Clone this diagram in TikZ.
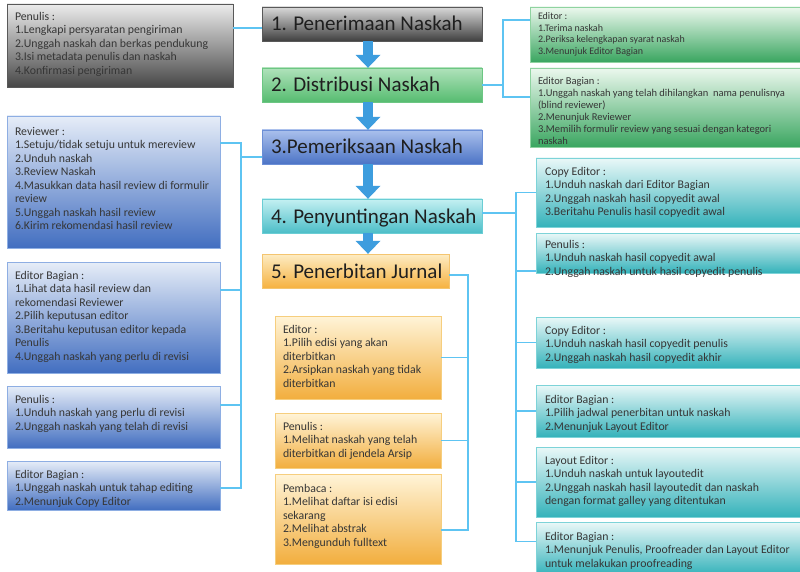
\documentclass[tikz,border=0pt]{standalone}
\usepackage{fontspec}
\setmainfont{Carlito}
\usetikzlibrary{arrows.meta,positioning,calc}

\definecolor{garis}{HTML}{5EC4F2}
\definecolor{panah}{HTML}{3D9DDE}
\definecolor{teks}{HTML}{363636}

\begin{document}
\begin{tikzpicture}[x=1pt,y=-1pt,
  conn/.style={garis,line width=1.6pt},
  blokpanah/.style={panah,line width=10pt,-{Triangle[width=25pt,length=13pt,line width=0pt]}},
  judul/.style={minimum height=34pt,inner sep=0pt},
  jdl/.style={anchor=base west,inner sep=0pt,text=black!88,font=\fontsize{21}{24}\selectfont},
  isi/.style={anchor=north west,align=left,inner sep=0pt,text=teks,font=\fontsize{11.8}{13.5}\selectfont},
  kotak/.style={inner sep=0pt},
  abuJ/.style={draw=gray!70!black,top color=gray!30,bottom color=black!75},
  abuK/.style={draw=gray!70!black,top color=gray!15,bottom color=black!72},
  hijauJ/.style={draw={rgb,255:red,108;green,198;blue,131},top color={rgb,255:red,176;green,226;blue,187},bottom color={rgb,255:red,86;green,188;blue,112}},
  hijauK/.style={draw={rgb,255:red,143;green,211;blue,160},top color={rgb,255:red,236;green,248;blue,238},bottom color={rgb,255:red,58;green,166;blue,96}},
  biruJ/.style={draw={rgb,255:red,108;green,143;blue,214},top color={rgb,255:red,170;green,192;blue,236},bottom color={rgb,255:red,76;green,116;blue,198}},
  biruK/.style={draw={rgb,255:red,142;green,174;blue,227},top color={rgb,255:red,230;green,237;blue,248},bottom color={rgb,255:red,66;green,110;blue,192}},
  tosJ/.style={draw={rgb,255:red,106;green,205;blue,212},top color={rgb,255:red,196;green,240;blue,242},bottom color={rgb,255:red,76;green,190;blue,200}},
  tosK/.style={draw={rgb,255:red,125;green,211;blue,216},top color={rgb,255:red,234;green,248;blue,248},bottom color={rgb,255:red,52;green,178;blue,186}},
  oranyeJ/.style={draw={rgb,255:red,244;green,197;blue,112},top color={rgb,255:red,253;green,236;blue,196},bottom color={rgb,255:red,246;green,178;blue,64}},
  oranyeK/.style={draw={rgb,255:red,246;green,206;blue,126},top color={rgb,255:red,255;green,244;blue,216},bottom color={rgb,255:red,242;green,174;blue,62}}]
  \fill[white] (0,0) rectangle (800,572);
  \useasboundingbox (0,0) rectangle (800,572);

  % tahapan utama
  \node[judul,abuJ,minimum width=220pt] (t1) at (372,24) {};
  \node[judul,hijauJ,minimum width=220pt] (t2) at (372,85) {};
  \node[judul,biruJ,minimum width=220pt] (t3) at (372,147) {};
  \node[judul,tosJ,minimum width=220pt] (t4) at (372,216) {};
  \node[judul,oranyeJ,minimum width=187pt] (t5) at (355.5,271) {};
  \node[jdl] (t1t) at ([xshift=9pt,yshift=-7pt]t1.west) {1. Penerimaan Naskah};
  \node[jdl] (t2t) at ([xshift=9pt,yshift=-7pt]t2.west) {2. Distribusi Naskah};
  \node[jdl] (t3t) at ([xshift=9pt,yshift=-7pt]t3.west) {3.Pemeriksaan\ Naskah};
  \node[jdl] (t4t) at ([xshift=9pt,yshift=-7pt]t4.west) {4. Penyuntingan Naskah};
  \node[jdl] (t5t) at ([xshift=9pt,yshift=-7pt]t5.west) {5. Penerbitan\ Jurnal};
  \foreach \a/\b in {t1/t2,t2/t3,t3/t4,t4/t5}{
    \draw[blokpanah] ([xshift=-4pt]\a.south) -- ([xshift=-4pt]\a.south |- \b.north);
  }

  % penerimaan
  \node[kotak,abuK,minimum width=226pt,minimum height=83pt] (pen1) at (120,45.5) {};
  \node[isi] (pen1t) at ([xshift=8pt,yshift=-8pt]pen1.north west) {Penulis :\\1.Lengkapi persyaratan pengiriman\\2.Unggah naskah dan berkas pendukung\\3.Isi metadata penulis dan naskah\\4.Konfirmasi pengiriman};

  % distribusi
  \node[kotak,hijauK,minimum width=273pt,minimum height=55pt] (ed1) at (666.5,34.5) {};
  \node[kotak,hijauK,minimum width=273pt,minimum height=79pt] (edb1) at (666.5,107.5) {};
  \node[isi,font=\fontsize{10}{11.5}\selectfont] (ed1t) at ([xshift=8pt,yshift=-6pt]ed1.north west) {Editor :\\1.Terima naskah\\2.Periksa kelengkapan syarat naskah\\3.Menunjuk Editor Bagian};
  \node[isi,font=\fontsize{10.5}{12}\selectfont] (edb1t) at ([xshift=8pt,yshift=-9pt]edb1.north west) {Editor Bagian :\\1.Unggah naskah yang telah dihilangkan\ \ nama penulisnya\\(blind reviewer)\\2.Menunjuk Reviewer\\3.Memilih formulir review yang sesuai dengan kategori\\naskah};

  % pemeriksaan
  \node[kotak,biruK,minimum width=213pt,minimum height=132pt] (rev) at (113.5,182) {};
  \node[kotak,biruK,minimum width=213pt,minimum height=111pt] (edb2) at (113.5,317.5) {};
  \node[kotak,biruK,minimum width=213pt,minimum height=62pt] (pen2) at (113.5,417) {};
  \node[kotak,biruK,minimum width=213pt,minimum height=49pt] (edb3) at (113.5,485.5) {};
  \node[isi] (revt) at ([xshift=8pt,yshift=-11pt]rev.north west) {Reviewer :\\1.Setuju/tidak setuju untuk mereview\\2.Unduh naskah\\3.Review Naskah\\4.Masukkan data hasil review di formulir\\review\\5.Unggah naskah hasil review\\6.Kirim rekomendasi hasil review};
  \node[isi] (edb2t) at ([xshift=8pt,yshift=-9pt]edb2.north west) {Editor Bagian :\\1.Lihat data hasil review dan\\rekomendasi Reviewer\\2.Pilih keputusan editor\\3.Beritahu keputusan editor kepada\\Penulis\\4.Unggah naskah yang perlu di revisi};
  \node[isi] (pen2t) at ([xshift=8pt,yshift=-9pt]pen2.north west) {Penulis :\\1.Unduh naskah yang perlu di revisi\\2.Unggah naskah yang telah di revisi};
  \node[isi] (edb3t) at ([xshift=8pt,yshift=-9pt]edb3.north west) {Editor Bagian :\\1.Unggah naskah untuk tahap editing\\2.Menunjuk Copy Editor};

  % penyuntingan
  \node[kotak,tosK,minimum width=267pt,minimum height=69pt] (ce1) at (669.5,192.5) {};
  \node[kotak,tosK,minimum width=267pt,minimum height=40pt] (pn3) at (669.5,253) {};
  \node[kotak,tosK,minimum width=267pt,minimum height=51pt] (ce2) at (669.5,342.5) {};
  \node[kotak,tosK,minimum width=267pt,minimum height=52pt] (eb4) at (669.5,411) {};
  \node[kotak,tosK,minimum width=267pt,minimum height=70pt] (le) at (669.5,482) {};
  \node[kotak,tosK,minimum width=267pt,minimum height=53pt] (eb5) at (669.5,548.5) {};
  \node[isi] (ce1t) at ([xshift=9pt,yshift=-9pt]ce1.north west) {Copy Editor :\\1.Unduh naskah dari Editor Bagian\\2.Unggah naskah hasil copyedit awal\\3.Beritahu Penulis hasil copyedit awal};
  \node[isi] (pn3t) at ([xshift=9pt,yshift=-7pt]pn3.north west) {Penulis :\\1.Unduh naskah hasil copyedit awal\\2.Unggah naskah untuk hasil copyedit penulis};
  \node[isi] (ce2t) at ([xshift=9pt,yshift=-9pt]ce2.north west) {Copy Editor :\\1.Unduh naskah hasil copyedit penulis\\2.Unggah naskah hasil copyedit akhir};
  \node[isi] (eb4t) at ([xshift=9pt,yshift=-10pt]eb4.north west) {Editor Bagian :\\1.Pilih jadwal penerbitan untuk naskah\\2.Menunjuk Layout Editor};
  \node[isi] (let) at ([xshift=9pt,yshift=-9pt]le.north west) {Layout Editor :\\1.Unduh naskah untuk layoutedit\\2.Unggah naskah hasil layoutedit dan naskah\\dengan format galley yang ditentukan};
  \node[isi] (eb5t) at ([xshift=9pt,yshift=-10pt]eb5.north west) {Editor Bagian :\\1.Menunjuk Penulis, Proofreader dan Layout Editor\\untuk melakukan proofreading};

  % penerbitan
  \node[kotak,oranyeK,minimum width=166pt,minimum height=83pt] (oe) at (358,357.5) {};
  \node[kotak,oranyeK,minimum width=166pt,minimum height=55pt] (op) at (358,440.5) {};
  \node[kotak,oranyeK,minimum width=166pt,minimum height=90pt] (pb) at (358,519) {};
  \node[isi] (oet) at ([xshift=8pt,yshift=-9pt]oe.north west) {Editor :\\1.Pilih edisi yang akan\\diterbitkan\\2.Arsipkan naskah yang tidak\\diterbitkan};
  \node[isi] (opt) at ([xshift=8pt,yshift=-9pt]op.north west) {Penulis :\\1.Melihat naskah yang telah\\diterbitkan di jendela Arsip};
  \node[isi] (pbt) at ([xshift=8pt,yshift=-10pt]pb.north west) {Pembaca :\\1.Melihat daftar isi edisi\\sekarang\\2.Melihat abstrak\\3.Mengunduh fulltext};

  % penghubung
  \draw[conn] ([yshift=-4pt]t1.west) -- ++(-29,0);
  \draw[conn] (t2.east) -- ++(21,0);
  \draw[conn] ([yshift=14.5pt]ed1.west) -- ++(-27,0) |- ([yshift=10.5pt]edb1.west);
  \draw[conn] ([yshift=-10pt]t3.west) -- ++(-21,0);
  \draw[conn] ([yshift=39pt]rev.east) -- ++(21,0) |- ([yshift=-2.5pt]edb3.east);
  \draw[conn] ([yshift=27.5pt]edb2.east) -- ++(21,0);
  \draw[conn] ([yshift=12pt]pen2.east) -- ++(21,0);
  \draw[conn] ([yshift=3pt]t4.east) -- ++(34,0);
  \draw[conn] (ce1.west) -- ++(-20,0) |- ([yshift=7pt]eb5.west);
  \draw[conn] ([yshift=-18pt]pn3.west) -- ++(-20,0);
  \foreach \n in {ce2,eb4,le}{
    \draw[conn] (\n.west) -- ++(-20,0);
  }
  \draw[conn] ([yshift=-4pt]t5.east) -- ++(19,0) |- ([yshift=-11pt]pb.east);
  \foreach \n in {oe,op}{
    \draw[conn] (\n.east) -- ++(27,0);
  }
\end{tikzpicture}
\end{document}
